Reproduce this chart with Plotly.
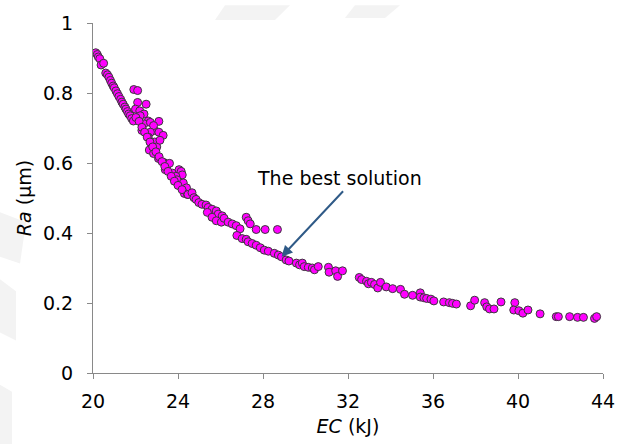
import plotly.graph_objects as go

# EC (kJ) and Ra (um) values
ec = [20.13, 20.2, 20.25, 20.32, 20.38, 20.5, 20.6, 20.68, 20.75, 20.82, 20.88, 20.95,
      21.0, 21.08, 21.15, 21.22, 21.3, 21.36, 21.42, 21.5, 21.55, 21.62, 21.68, 21.75,
      21.82, 21.9,
      # cluster 22-24 (upper)
      21.92, 22.1, 22.1, 22.0, 22.2, 22.5, 22.4, 22.22, 22.6, 22.4, 22.7, 23.1, 22.9, 23.1,
      23.3, 22.85, 22.7, 22.6, 22.3, 22.75, 22.9, 23.0, 23.15, 22.65, 22.85, 23.08, 23.35,
      23.5, 23.6, 23.4, 23.75, 24.05, 24.15, 24.2, 23.9, 23.95, 24.25, 24.4, 24.3, 24.45,
      # curve 22-24
      22.02, 22.17, 22.3, 22.43, 22.55, 22.68, 22.81, 22.96, 23.11, 23.25, 23.38, 23.53,
      23.68, 23.83, 24.0,
      # 24-28
      24.19, 24.47, 24.66, 24.75, 24.85, 24.98, 25.13, 25.32, 25.42, 25.6, 25.8, 25.89,
      26.08, 25.38, 25.6, 25.8, 26.04, 26.17, 26.36, 26.55, 26.74, 26.92, 26.77, 27.02,
      27.21, 27.3, 27.49, 27.68, 27.87, 28.06, 28.25, 28.53, 28.72,
      27.21, 27.3, 27.4, 27.68, 28.1, 28.68,
      28.87,
      # 29-32
      29.09, 29.22, 29.57, 29.72, 29.85, 29.94, 30.13, 30.32, 30.42, 30.6, 31.08, 31.11,
      31.42, 31.51, 31.74,
      # 32-36
      32.53, 32.64, 32.87, 32.96, 33.1, 33.25, 33.4, 33.53, 33.8, 34.1, 34.47, 34.66,
      35.04, 35.4, 35.4, 35.57, 35.7, 35.9, 36.04,
      # 36-44
      36.5, 36.77, 36.92, 37.1, 37.77, 37.96, 38.43, 38.53, 38.66, 38.87, 39.2, 39.85,
      39.8, 40.04, 40.23, 40.47, 41.04, 41.8, 41.9, 42.43, 42.8, 43.08, 43.6, 43.7]

ra = [0.915, 0.91, 0.903, 0.898, 0.88, 0.885, 0.857, 0.852, 0.845, 0.836, 0.828, 0.82,
      0.815, 0.806, 0.798, 0.79, 0.782, 0.774, 0.768, 0.76, 0.754, 0.747, 0.74, 0.735,
      0.727, 0.72,
      0.81, 0.807, 0.773, 0.754, 0.749, 0.768, 0.74, 0.735, 0.72, 0.712, 0.716, 0.719,
      0.693, 0.688, 0.679, 0.707, 0.688, 0.674, 0.693, 0.655, 0.66, 0.646, 0.665, 0.637,
      0.627, 0.613, 0.601, 0.595, 0.599, 0.581, 0.571, 0.581, 0.576, 0.566, 0.562, 0.552,
      0.543, 0.529, 0.513, 0.51,
      0.73, 0.719, 0.702, 0.688, 0.674, 0.66, 0.646, 0.632, 0.618, 0.604, 0.59, 0.576,
      0.562, 0.548, 0.536,
      0.524, 0.51, 0.515, 0.501, 0.496, 0.487, 0.482, 0.48, 0.473, 0.468, 0.463, 0.454,
      0.449, 0.459, 0.445, 0.435, 0.431, 0.442, 0.431, 0.426, 0.421, 0.412, 0.393, 0.384,
      0.382, 0.375, 0.37, 0.365, 0.358, 0.351, 0.348, 0.342, 0.337,
      0.445, 0.435, 0.426, 0.41, 0.41, 0.41,
      0.332,
      0.323, 0.32, 0.314, 0.309, 0.314, 0.304, 0.302, 0.3, 0.295, 0.304, 0.302, 0.288,
      0.292, 0.276, 0.292,
      0.273, 0.267, 0.262, 0.255, 0.259, 0.253, 0.243, 0.259, 0.246, 0.241, 0.239, 0.225,
      0.222, 0.229, 0.217, 0.215, 0.213, 0.211, 0.206,
      0.203, 0.201, 0.199, 0.197, 0.192, 0.208, 0.201, 0.189, 0.183, 0.183, 0.203, 0.201,
      0.18, 0.178, 0.171, 0.18, 0.169, 0.161, 0.161, 0.161, 0.159, 0.159, 0.156, 0.161]

x_ticks = [20, 24, 28, 32, 36, 40, 44]
y_ticks = [0, 0.2, 0.4, 0.6, 0.8, 1]
y_tick_text = ["0", "0.2", "0.4", "0.6", "0.8", "1"]

best_ec, best_ra = 28.87, 0.332
annot_text = "The best solution"

font = "DejaVu Sans, Liberation Sans, Arial, sans-serif"
FS = 19

W, H = 628, 445
ML, MR, MT, MB = 93, 25, 18, 72
PW, PH = W - ML - MR, H - MT - MB


def px_path(pts):
    # convert page-pixel polygon to paper coordinates
    s = []
    for i, (px, py) in enumerate(pts):
        xp = (px - ML) / PW
        yp = (H - MB - py) / PH
        s.append(("M" if i == 0 else "L") + f" {xp:.4f} {yp:.4f}")
    return " ".join(s) + " Z"


fig = go.Figure()
fig.add_trace(go.Scatter(
    x=ec, y=ra, mode="markers",
    marker=dict(size=8, color="#FF00FF", line=dict(color="#3a3a3a", width=1)),
    showlegend=False, hoverinfo="x+y"))

# faint watermark shapes in the background
wm = "#F3F3F3"
for poly in [[(225, 0), (290, 0), (275, 15), (215, 15)],
             [(355, 0), (400, 0), (385, 13), (345, 13)],
             [(0, 210), (26, 220), (20, 262), (0, 255)],
             [(0, 278), (16, 290), (16, 340), (0, 332)],
             [(0, 385), (12, 392), (12, 445), (0, 445)]]:
    fig.add_shape(type="path", path=px_path(poly), xref="paper", yref="paper",
                  fillcolor=wm, line=dict(width=0), layer="below")

fig.add_annotation(x=best_ec, y=best_ra, xref="x", yref="y", text="",
                   showarrow=True, ax=63, ay=-67, axref="pixel", ayref="pixel",
                   arrowhead=2, arrowsize=1.1, arrowwidth=2, arrowcolor="#2F5A87")
fig.add_annotation(x=31.62, y=0.558, xref="x", yref="y", text=annot_text,
                   showarrow=False, font=dict(family=font, size=FS, color="#000000"))

fig.update_layout(
    width=W, height=H,
    margin=dict(l=ML, r=MR, t=MT, b=MB),
    paper_bgcolor="white", plot_bgcolor="white",
    font=dict(family=font, size=FS, color="#000000"),
    xaxis=dict(range=[20, 44], tickvals=x_ticks, ticktext=[str(v) for v in x_ticks],
               showgrid=False, zeroline=False, showline=True, linecolor="#898989",
               linewidth=1, ticks="outside", ticklen=5, tickcolor="#898989",
               ticklabelstandoff=6,
               title=dict(text="<i>EC</i> (kJ)", font=dict(size=FS), standoff=8)),
    yaxis=dict(range=[0, 1], tickvals=y_ticks, ticktext=y_tick_text,
               showgrid=False, zeroline=False, showline=True, linecolor="#898989",
               linewidth=1, ticks="outside", ticklen=5, tickcolor="#898989",
               ticklabelstandoff=10,
               title=dict(text="<i>Ra</i> (µm)", font=dict(size=FS), standoff=6)),
)

fig.write_html("out.html")
